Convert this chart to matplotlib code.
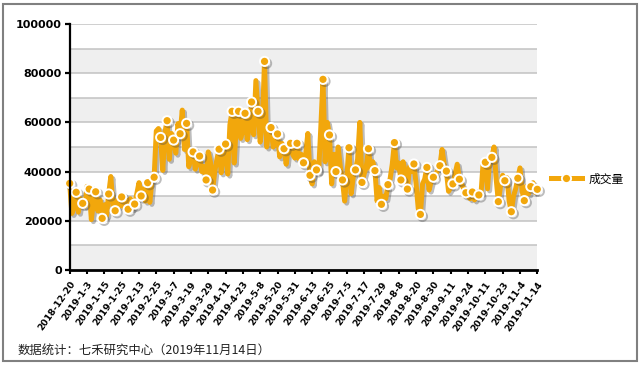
import matplotlib
matplotlib.use('Agg')
import matplotlib.pyplot as plt
import matplotlib.patheffects as pe
from matplotlib.lines import Line2D
from matplotlib.patches import Rectangle
import numpy as np

# trading-day labels, one every 8 points
date_labels = ['2018-12-20', '2019-1-3', '2019-1-15', '2019-1-25', '2019-2-13', '2019-2-25',
               '2019-3-7', '2019-3-19', '2019-3-29', '2019-4-11', '2019-4-23', '2019-5-8',
               '2019-5-20', '2019-5-31', '2019-6-13', '2019-6-25', '2019-7-5', '2019-7-17',
               '2019-7-29', '2019-8-8', '2019-8-20', '2019-8-30', '2019-9-11', '2019-9-24',
               '2019-10-11', '2019-10-23', '2019-11-4', '2019-11-14']

# daily volume
volume = [35200, 23000, 25500, 31600, 23500, 29000, 27100, 26000, 34000, 32900,
          20500, 28000, 31800, 24000, 28500, 21000, 26500, 22000, 30900, 38000,
          26000, 24100, 28500, 26000, 29700, 25500, 28500, 24700, 29000, 25000,
          26800, 31000, 35500, 30100, 33000, 28000, 35500, 27500, 36500, 37700,
          56500, 57500, 53900, 40500, 56000, 60700, 45000, 55500, 52800, 47500,
          59500, 55400, 65000, 49000, 59600, 42000, 46000, 48000, 41000, 44500,
          46300, 40000, 42000, 36600, 48000, 44000, 32500, 40000, 45000, 49100,
          39500, 47000, 51200, 39000, 59000, 64500, 43500, 60000, 64500, 53500,
          57000, 63700, 53000, 58000, 68300, 55000, 77000, 64500, 52000, 60000,
          84800, 50000, 58000, 57900, 50000, 52000, 55300, 46000, 51500, 49300,
          43000, 50500, 51500, 47000, 45500, 51500, 45000, 47000, 43600, 47000,
          55500, 38500, 35000, 44000, 40700, 40000, 58000, 77500, 44000, 60000,
          54900, 35000, 47000, 40000, 50000, 42000, 36600, 28000, 38000, 49700,
          31000, 38000, 40700, 45000, 60000, 35600, 39000, 42000, 49300, 41000,
          44000, 40400, 28000, 33500, 26700, 30000, 29000, 34700, 37000, 43000,
          51800, 41500, 43500, 36600, 44000, 40000, 32900, 42000, 40000, 43100,
          35000, 25000, 22600, 35000, 37000, 41700, 32500, 36000, 37700, 39000,
          40500, 42400, 49000, 43000, 40200, 32000, 33500, 35000, 39000, 43000,
          36900, 35000, 33000, 31400, 30000, 29000, 31700, 28500, 30500, 30500,
          31000, 44000, 43800, 33000, 45000, 45800, 50000, 37000, 27800, 34000,
          38500, 36300, 37500, 28000, 23700, 30000, 33000, 37300, 41500, 32000,
          28200, 34000, 31000, 33900, 35500, 31500, 32800]

y_ticks = [0, 20000, 40000, 60000, 80000, 100000]
series_name = '成交量'
source_note = '数据统计：七禾研究中心（2019年11月14日）'

orange = '#F2A70C'
cjk = ['Noto Sans CJK SC', 'DejaVu Sans']

fig = plt.figure(figsize=(6.41, 3.67), dpi=100)
ax = fig.add_axes([69.7 / 641, 1 - 270 / 367, (537.3 - 69.7) / 641, (270 - 24) / 367])

x = np.arange(len(volume))
vol = np.array(volume)

# alternating bands + grid
for lo in range(0, 100000, 20000):
    ax.axhspan(lo, lo + 10000, color='#efefef', lw=0, zorder=0)
for g in range(10000, 100001, 10000):
    ax.axhline(g, color='#c2c2c2', lw=1.1, zorder=1)

shadow = [pe.SimpleLineShadow(offset=(1.5, -1.5), shadow_color='#444444', alpha=0.35), pe.Normal()]
ax.plot(x, vol, color=orange, lw=3.6, solid_joinstyle='round', zorder=3,
        clip_on=False, path_effects=shadow)
ax.plot(x[::3], vol[::3], ls='none', marker='o', ms=6.6, mfc=orange, mec='white',
        mew=1.4, zorder=4, clip_on=False, path_effects=shadow)

ax.set_xlim(0, len(volume) - 1)
ax.set_ylim(0, 100000)

ax.set_yticks(y_ticks)
ax.set_yticklabels([str(v) for v in y_ticks], fontsize=8, fontweight='bold')
ax.set_xticks(x[::8])
ax.set_xticklabels(date_labels, rotation=55, ha='right', va='top', rotation_mode='anchor',
                   fontsize=6.6, fontweight='bold')
ax.tick_params(axis='y', length=3.6, width=1.6, pad=2)
ax.tick_params(axis='x', length=3, width=1.5, pad=4)

for s in ['top', 'right']:
    ax.spines[s].set_visible(False)
ax.spines['left'].set_linewidth(1.6)
ax.spines['bottom'].set_linewidth(2)
ax.spines['left'].set_zorder(5)
ax.spines['bottom'].set_zorder(5)

# legend
proxy = Line2D([], [], color=orange, lw=3.6, marker='o', ms=6.6, mfc=orange, mec='white', mew=1.4)
fig.legend(handles=[proxy], labels=[series_name], loc='center left',
           bbox_to_anchor=(551 / 641, 1 - 179 / 367), frameon=False, numpoints=1,
           handlelength=2.6, handletextpad=0.6, borderpad=0, borderaxespad=0,
           prop={'family': cjk, 'size': 8.5})

fig.text(18 / 641, 1 - 350 / 367, source_note, fontsize=8.9, family=cjk,
         ha='left', va='center', color='#222222')

fig.patches.append(Rectangle((2.5 / 641, 1 - 361 / 367), 634 / 641, 357 / 367,
                             transform=fig.transFigure, fill=False, ec='#808080', lw=1.5))

fig.savefig('out.png', dpi=100)
